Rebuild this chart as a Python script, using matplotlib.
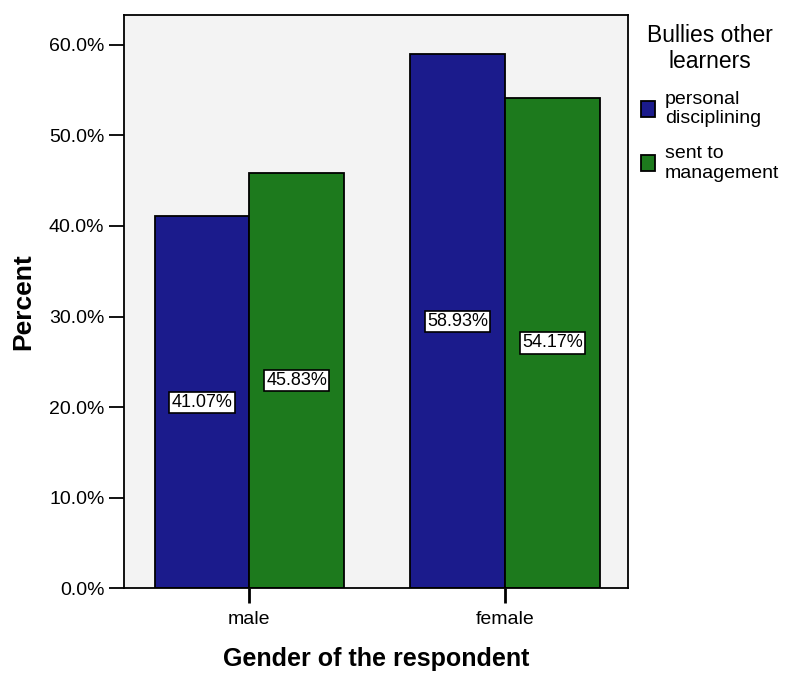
import matplotlib
matplotlib.use("Agg")
import matplotlib.pyplot as plt
import numpy as np
from matplotlib.patches import Patch

categories = ["male", "female"]
series_names = ["personal\ndisciplining", "sent to\nmanagement"]
personal = [41.07, 58.93]
management = [45.83, 54.17]
colors = ["#1b1b8c", "#1d7a1d"]

plt.rcParams['font.family'] = ['Liberation Sans', 'DejaVu Sans']

fig = plt.figure(figsize=(7.99, 6.77), dpi=100)
ax = fig.add_axes([0.155, 0.131, 0.631, 0.847])
ax.set_facecolor("#f3f3f3")

x = np.arange(len(categories))
w = 0.37
vals = [personal, management]
for i, (v, c) in enumerate(zip(vals, colors)):
    xs = x + (i - 0.5) * w
    ax.bar(xs, v, width=w, color=c, edgecolor="black", linewidth=1.3, zorder=2)
    for xi, vi in zip(xs, v):
        ax.text(xi, vi / 2, f"{vi:.2f}%", ha="center", va="center", fontsize=13,
                color="black", zorder=3,
                bbox=dict(boxstyle="square,pad=0.12", fc="white", ec="black", lw=1.2))

ax.set_xlim(-0.49, 1.48)
ax.set_ylim(0, 63.3)
ax.set_xticks(x)
ax.set_xticklabels(categories, fontsize=14)
ax.set_yticks(np.arange(0, 61, 10))
ax.set_yticklabels([f"{t:.1f}%" for t in np.arange(0, 61, 10)], fontsize=14)
ax.tick_params(axis="y", length=11, width=1.3, direction="out", pad=3)
ax.tick_params(axis="x", length=11, width=2, direction="out", pad=5)
for s in ax.spines.values():
    s.set_linewidth(1.3)
    s.set_color("black")

ax.set_ylabel("Percent", fontsize=19, fontweight="bold", labelpad=10)
ax.set_xlabel("Gender of the respondent", fontsize=18, fontweight="bold", labelpad=14)

handles = [Patch(facecolor=c, edgecolor="black", linewidth=1.3) for c in colors]
leg = fig.legend(handles, series_names, title="Bullies other\nlearners",
                 loc="upper left", bbox_to_anchor=(0.785, 0.985), frameon=False,
                 fontsize=14, title_fontsize=16.5, handlelength=0.75, handleheight=0.85,
                 handletextpad=0.5, labelspacing=0.9, borderpad=0.2)
leg._legend_box.align = "center"
leg.get_title().set_multialignment("center")

fig.savefig("out.png", dpi=100)
